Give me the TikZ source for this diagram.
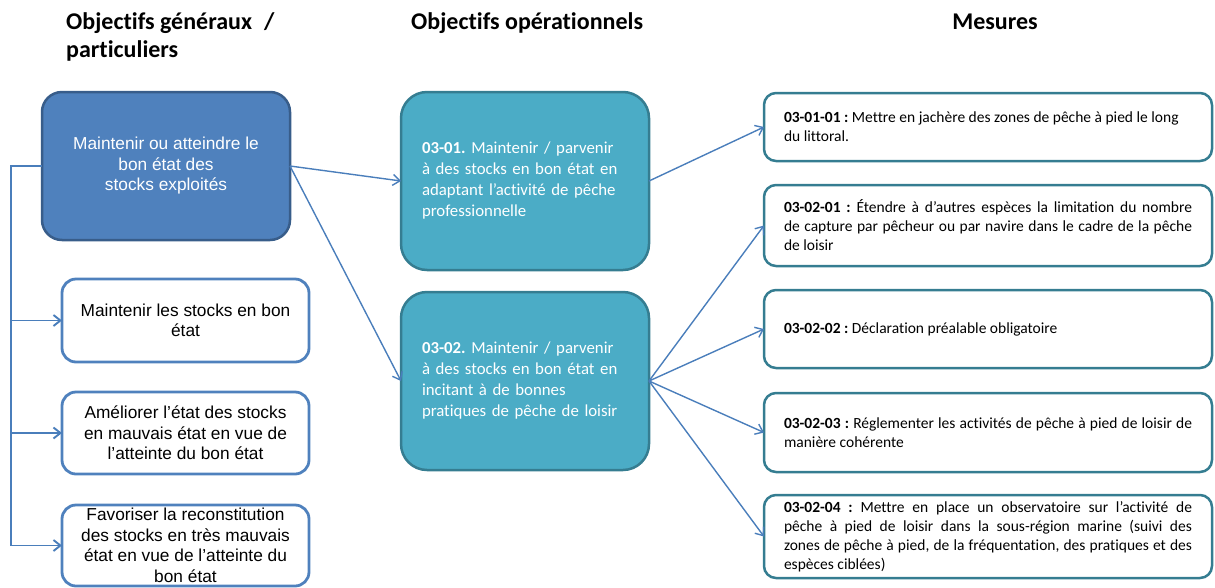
\documentclass[tikz,border=0pt]{standalone}
\usepackage{fontspec}
\setmainfont{Carlito}[Ligatures=NoCommon]
\newfontfamily\arialfont{Liberation Sans}
\usetikzlibrary{arrows.meta, positioning, calc}
\frenchspacing

\definecolor{goalblue}{HTML}{4F81BD}
\definecolor{goaledge}{HTML}{385D8A}
\definecolor{opfill}{HTML}{4BACC6}
\definecolor{opedge}{HTML}{357D91}
\definecolor{linkblue}{HTML}{4A7EBB}

\begin{document}
\begin{tikzpicture}[x=1pt, y=-1pt, >={Straight Barb[length=7pt, width=11pt]},
  heading/.style={inner sep=0pt, anchor=north west, align=left,
                  font=\fontsize{24}{28}\selectfont\bfseries},
  goal/.style={draw=goalblue, line width=2.8pt, rounded corners=14pt, outer sep=0pt,
               minimum width=247pt, align=center,
               font=\arialfont\fontsize{17.3}{20.5}\selectfont},
  mainbox/.style={goal, draw=goaledge, fill=goalblue, text=white, line width=2.5pt,
                  minimum width=248pt, minimum height=148pt, rounded corners=20pt},
  opbox/.style={draw=opedge, fill=opfill, text=white, line width=2.5pt, outer sep=0pt,
                rounded corners=26pt, minimum width=248pt, minimum height=178pt,
                text width=206pt, inner xsep=21pt, align=left,
                font=\fontsize{16.8}{21}\selectfont},
  measure/.style={draw=opedge, line width=2.5pt, rounded corners=12pt, outer sep=0pt,
                  minimum width=448pt, text width=408pt, inner xsep=20pt, align=justify,
                  font=\fontsize{15.5}{19}\selectfont},
  link/.style={draw=linkblue, line width=1.4pt}]
  \useasboundingbox (0,0) rectangle (1215,587);

  % Column headings
  \node[heading] (hd-gen) at (66,12) {Objectifs généraux\enspace/\\particuliers};
  \node[heading] (hd-op) at (411,12) {Objectifs opérationnels};
  \node[heading, anchor=north] (hd-mes) at (995,14) {Mesures};

  % General / particular objectives
  \node[mainbox] (main) at (166,166)
    {Maintenir ou atteindre le\\bon état des\\stocks exploités};
  \node[goal, minimum height=83pt] (ga) at (185.5,320.5)
    {Maintenir les stocks en bon\\état};
  \node[goal, minimum height=82pt, below=30pt of ga] (gb)
    {Améliorer l’état des stocks\\en mauvais état en vue de\\l’atteinte du bon état};
  \node[goal, minimum height=81pt, below=31pt of gb] (gc)
    {Favoriser la reconstitution\\des stocks en très mauvais\\état en vue de l’atteinte du\\bon état};

  % Operational objectives
  \node[opbox] (op1) at (525,181)
    {\textbf{03-01.} Maintenir / parvenir\\à des stocks en bon état en\\adaptant l’activité de pêche\\professionnelle};
  \node[opbox, below=22pt of op1] (op2)
    {\textbf{03-02.} Maintenir / parvenir\\à des stocks en bon état en\\incitant à de bonnes\\pratiques de pêche de loisir};

  % Measures
  \node[measure, minimum height=68pt] (m1) at (988,127)
    {\textbf{03-01-01 :} Mettre en jachère des zones de pêche à pied le long\\du littoral.};
  \node[measure, minimum height=81pt, below=24pt of m1] (m2)
    {\textbf{03-02-01 :} Étendre à d’autres espèces la limitation du nombre\linebreak
     de capture par pêcheur ou par navire dans le cadre de la pêche\linebreak de loisir};
  \node[measure, minimum height=78pt, below=24pt of m2] (m3)
    {\textbf{03-02-02 :} Déclaration préalable obligatoire};
  \node[measure, minimum height=79pt, below=25pt of m3] (m4)
    {\textbf{03-02-03 :} Réglementer les activités de pêche à pied de loisir de\linebreak
     manière cohérente};
  \node[measure, minimum height=83pt, below=23pt of m4] (m5)
    {\textbf{03-02-04 :} Mettre en place un observatoire sur l’activité de\linebreak
     pêche à pied de loisir dans la sous-région marine (suivi des\linebreak
     zones de pêche à pied, de la fréquentation, des pratiques et des\linebreak
     espèces ciblées)};

  % Left spine
  \coordinate (spine) at ($(main.west)+(-31,0)$);
  \draw[link, line width=1.9pt, ->] (main.west) -- (spine) |- (gc.west);
  \foreach \g in {ga, gb}
    \draw[link, line width=1.9pt, ->] (spine |- \g.west) -- (\g.west);

  % Links to operational objectives
  \draw[link, ->] (main.east) -- (op1.west);
  \draw[link, ->] (main.east) -- (op2.west);

  % Links to measures
  \draw[link, ->] (op1.east) -- (m1.west);
  \foreach \m in {m2, m3, m4, m5}
    \draw[link, ->] (op2.east) -- (\m.west);
\end{tikzpicture}
\end{document}
